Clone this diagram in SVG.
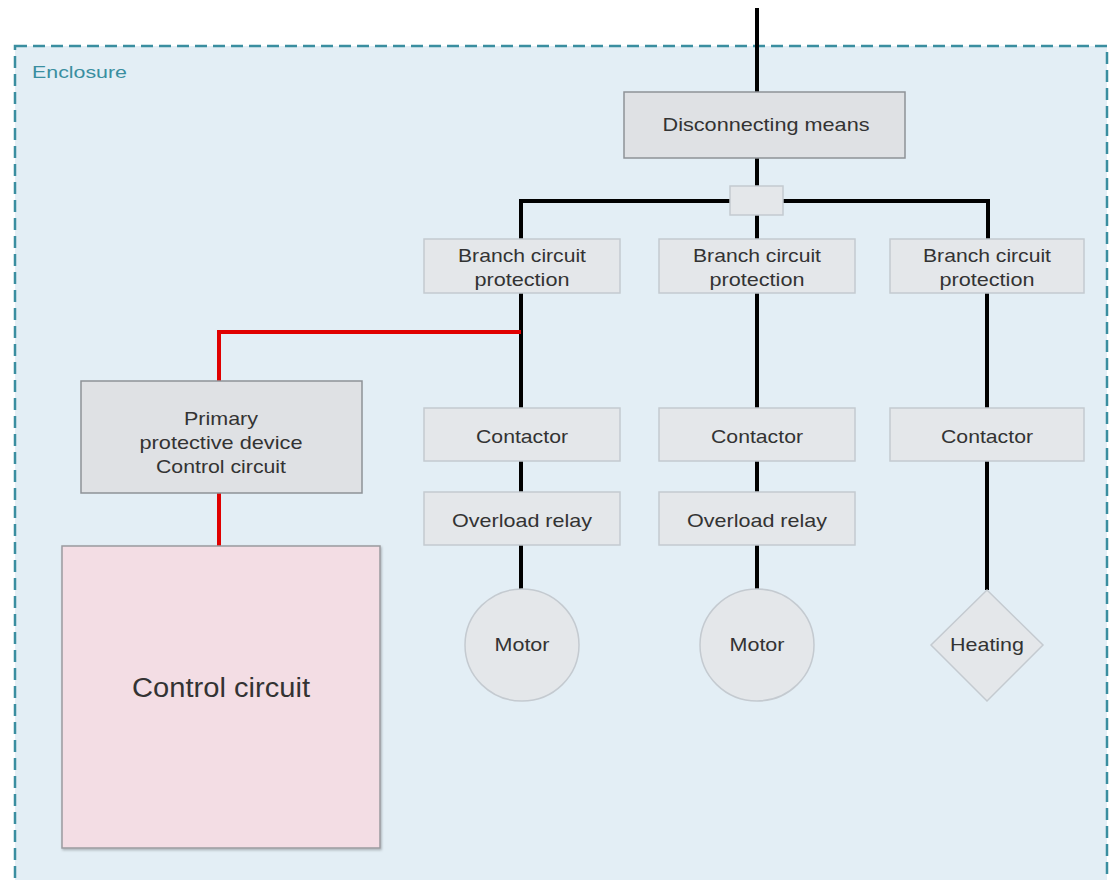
<svg xmlns="http://www.w3.org/2000/svg" width="1114" height="880" viewBox="0 0 1114 880">
<defs>
<filter id="sh" x="-5%" y="-5%" width="110%" height="110%"><feDropShadow dx="1" dy="1.5" stdDeviation="1" flood-color="#000" flood-opacity="0.25"/></filter>
</defs>
<style>
text{font-family:"Liberation Sans",Arial,sans-serif;fill:#333;text-anchor:middle}
.lt{fill:#e4e7ea;stroke:#c4cad0;stroke-width:1.5}
.dk{fill:#dfe1e4;stroke:#8e9297;stroke-width:1.5}
.t{font-size:19px}
.w{stroke:#000;stroke-width:4;fill:none}
.r{stroke:#e00000;stroke-width:4;fill:none}
</style>
<rect width="1114" height="880" fill="#ffffff"/>
<g id="enclosure">
<rect x="15" y="46" width="1092" height="845" fill="#e3eef5" stroke="#3a8ea0" stroke-width="2.5" stroke-dasharray="12,6"/>
<text x="32" y="78" textLength="95" lengthAdjust="spacingAndGlyphs" style="font-size:17px;fill:#3a8ea0;text-anchor:start">Enclosure</text>
</g>
<g id="connectors">
<path class="w" d="M757 8V92M757 158V186M757 215V239M521 239V201H988V239"/>
<path class="w" d="M521 293V408M521 461V492M521 545V589"/>
<path class="w" d="M757 293V408M757 461V492M757 545V589"/>
<path class="w" d="M987 293V408M987 461V590"/>
<path class="r" d="M521 332H219V381M219 493V546"/>
</g>
<g id="disconnect"><rect class="dk" x="624" y="92" width="281" height="66"/><text class="t" x="766" y="131" textLength="207" lengthAdjust="spacingAndGlyphs">Disconnecting means</text></g>
<g id="junction"><rect class="lt" x="730" y="186" width="53" height="29"/></g>
<g id="bcp1"><rect class="lt" x="424" y="239" width="196" height="54"/><text class="t" x="522" y="262" textLength="128" lengthAdjust="spacingAndGlyphs">Branch circuit</text><text class="t" x="522" y="286" textLength="95" lengthAdjust="spacingAndGlyphs">protection</text></g>
<g id="bcp2"><rect class="lt" x="659" y="239" width="196" height="54"/><text class="t" x="757" y="262" textLength="128" lengthAdjust="spacingAndGlyphs">Branch circuit</text><text class="t" x="757" y="286" textLength="95" lengthAdjust="spacingAndGlyphs">protection</text></g>
<g id="bcp3"><rect class="lt" x="890" y="239" width="194" height="54"/><text class="t" x="987" y="262" textLength="128" lengthAdjust="spacingAndGlyphs">Branch circuit</text><text class="t" x="987" y="286" textLength="95" lengthAdjust="spacingAndGlyphs">protection</text></g>
<g id="primary"><rect class="dk" x="81" y="381" width="281" height="112"/><text class="t" x="221" y="425" textLength="74" lengthAdjust="spacingAndGlyphs">Primary</text><text class="t" x="221" y="449" textLength="163" lengthAdjust="spacingAndGlyphs">protective device</text><text class="t" x="221" y="473" textLength="130" lengthAdjust="spacingAndGlyphs">Control circuit</text></g>
<g id="control"><rect x="62" y="546" width="318" height="302" fill="#f3dde4" stroke="#9a9a9f" stroke-width="1.5" filter="url(#sh)"/><text x="221" y="697" textLength="178" lengthAdjust="spacingAndGlyphs" style="font-size:27px">Control circuit</text></g>
<g id="cont1"><rect class="lt" x="424" y="408" width="196" height="53"/><text class="t" x="522" y="443" textLength="92" lengthAdjust="spacingAndGlyphs">Contactor</text></g>
<g id="cont2"><rect class="lt" x="659" y="408" width="196" height="53"/><text class="t" x="757" y="443" textLength="92" lengthAdjust="spacingAndGlyphs">Contactor</text></g>
<g id="cont3"><rect class="lt" x="890" y="408" width="194" height="53"/><text class="t" x="987" y="443" textLength="92" lengthAdjust="spacingAndGlyphs">Contactor</text></g>
<g id="ol1"><rect class="lt" x="424" y="492" width="196" height="53"/><text class="t" x="522" y="527" textLength="140" lengthAdjust="spacingAndGlyphs">Overload relay</text></g>
<g id="ol2"><rect class="lt" x="659" y="492" width="196" height="53"/><text class="t" x="757" y="527" textLength="140" lengthAdjust="spacingAndGlyphs">Overload relay</text></g>
<g id="motor1"><ellipse class="lt" cx="522" cy="645" rx="57" ry="56"/><text class="t" x="522" y="651" textLength="55" lengthAdjust="spacingAndGlyphs">Motor</text></g>
<g id="motor2"><ellipse class="lt" cx="757" cy="645" rx="57" ry="56"/><text class="t" x="757" y="651" textLength="55" lengthAdjust="spacingAndGlyphs">Motor</text></g>
<g id="heating"><polygon class="lt" points="987,590 1043,645 987,701 931,645"/><text class="t" x="987" y="651" textLength="74" lengthAdjust="spacingAndGlyphs">Heating</text></g>
</svg>
